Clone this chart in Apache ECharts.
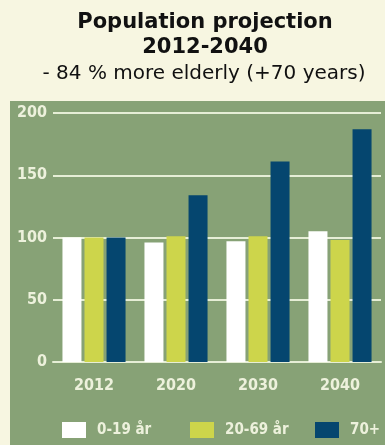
<!DOCTYPE html>
<html>
<head>
<meta charset="utf-8">
<script src="https://cdn.jsdelivr.net/npm/echarts@6/dist/echarts.min.js"></script>
<style>
  html, body { margin: 0; padding: 0; background: #f7f6e1; }
  #chart { width: 385px; height: 445px; }
</style>
</head>
<body>
<div id="chart"></div>
<script>
  // data
  var years = ['2012', '2020', '2030', '2040'];
  var young = [100, 96, 97, 105];
  var adults = [100, 101, 101, 98];
  var elderly = [100, 134, 161, 187];
  var seriesNames = ['0-19 år', '20-69 år', '70+'];
  var seriesColors = ['#ffffff', '#cdd54b', '#05466f'];

  var chart = echarts.init(document.getElementById('chart'));
  var labelFont = '"DejaVu Sans Condensed", "Roboto Condensed", sans-serif';
  var labelColor = '#edf1dc';

  function legendAt(i, left) {
    return {
      left: left,
      top: 417,
      icon: 'rect',
      itemWidth: 24,
      itemHeight: 16,
      textStyle: { color: labelColor, fontFamily: labelFont, fontWeight: 'bold', fontSize: 15, padding: [0, 0, 0, 6] },
      data: [seriesNames[i]]
    };
  }

  var series = seriesNames.map(function (name, i) {
    return {
      name: name,
      type: 'bar',
      data: [young, adults, elderly][i],
      barWidth: 19,
      barGap: '16%',
      itemStyle: { color: seriesColors[i] }
    };
  });

  var option = {
    backgroundColor: '#f7f6e1',
    title: [{
      text: 'Population projection\n2012-2040',
      left: 200,
      textAlign: 'center',
      top: 5,
      textStyle: {
        fontFamily: 'DejaVu Sans',
        fontWeight: 'bold',
        fontSize: 21,
        lineHeight: 25,
        color: '#111'
      }
    }, {
      text: '- 84 % more elderly (+70 years)',
      left: 199,
      textAlign: 'center',
      top: 59,
      textStyle: {
        fontFamily: 'DejaVu Sans',
        fontWeight: 'normal',
        fontSize: 20,
        color: '#111'
      }
    }],
    graphic: [{
      type: 'rect',
      z: -10,
      shape: { x: 10, y: 101, width: 375, height: 344 },
      style: { fill: '#87a276' }
    }],
    grid: { left: 53, right: 4, top: 113, bottom: 83 },
    legend: [legendAt(0, 57), legendAt(1, 185), legendAt(2, 310)],
    xAxis: {
      type: 'category',
      data: years,
      axisLine: { lineStyle: { color: '#e6eed6', width: 2 } },
      axisTick: { inside: true, length: 5, lineStyle: { color: '#e6eed6' } },
      axisLabel: { color: labelColor, fontFamily: labelFont, fontWeight: 'bold', fontSize: 16, margin: 16 }
    },
    yAxis: {
      type: 'value',
      min: 0,
      max: 200,
      interval: 50,
      axisLine: { show: false },
      axisLabel: { color: labelColor, fontFamily: labelFont, fontWeight: 'bold', fontSize: 16, margin: 6 },
      splitLine: { lineStyle: { color: '#e6eed6', width: 2 } }
    },
    series: series
  };

  chart.setOption(option);
</script>
</body>
</html>
